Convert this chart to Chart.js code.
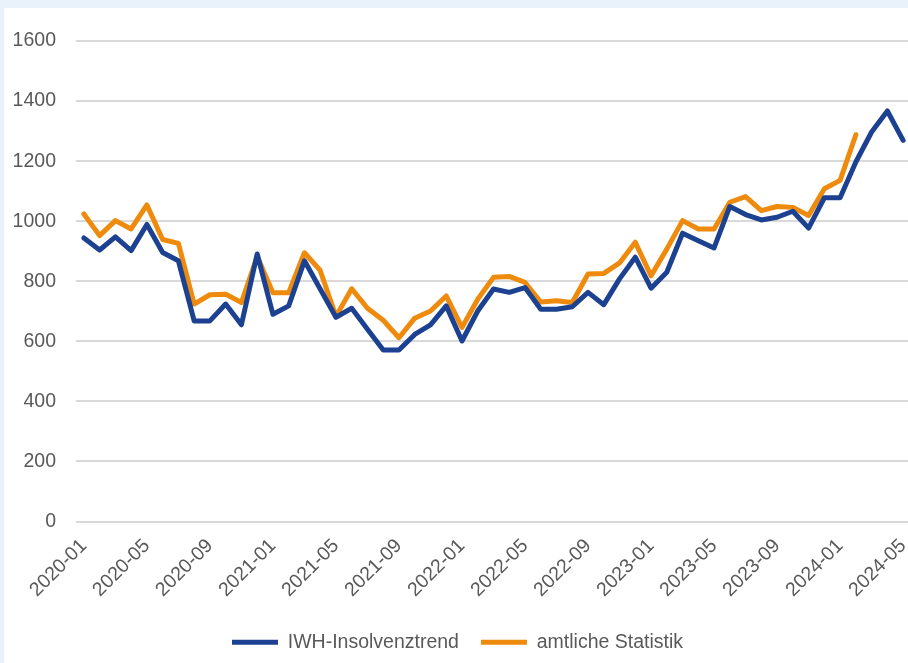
<!DOCTYPE html>
<html lang="de">
<head>
<meta charset="utf-8">
<title>IWH-Insolvenztrend</title>
<script src="https://cdn.jsdelivr.net/npm/chart.js@4/dist/chart.umd.min.js"></script>
<style>
  html, body { margin: 0; padding: 0; overflow: hidden; }
  body { width: 908px; height: 663px; background: #e9f1fa; position: relative; }
  #wrap { position: absolute; left: 4px; top: 8px; width: 907px; height: 655px; background: #fff; }
</style>
</head>
<body>
<div id="wrap"><canvas id="insoChart"></canvas></div>
<script>
/* ------------------------------------------------------------
   Données
------------------------------------------------------------ */
const months = [
  '2020-01','2020-02','2020-03','2020-04','2020-05','2020-06','2020-07','2020-08','2020-09','2020-10','2020-11','2020-12',
  '2021-01','2021-02','2021-03','2021-04','2021-05','2021-06','2021-07','2021-08','2021-09','2021-10','2021-11','2021-12',
  '2022-01','2022-02','2022-03','2022-04','2022-05','2022-06','2022-07','2022-08','2022-09','2022-10','2022-11','2022-12',
  '2023-01','2023-02','2023-03','2023-04','2023-05','2023-06','2023-07','2023-08','2023-09','2023-10','2023-11','2023-12',
  '2024-01','2024-02','2024-03','2024-04','2024-05'
];

const iwhTrend = [
  944, 904, 948, 902, 989, 896, 868, 668, 668, 724, 655, 891,
  690, 718, 868, 774, 680, 710, 640, 571, 571, 623, 655, 718,
  601, 701, 774, 763, 779, 707, 707, 715, 763, 722, 808, 880,
  777, 830, 960, 935, 911, 1049, 1022, 1004, 1013, 1033, 977, 1078,
  1078, 1197, 1297, 1367, 1269
];

const amtlich = [
  1024, 952, 1002, 974, 1054, 939, 926, 724, 755, 757, 729, 882,
  762, 762, 895, 836, 683, 775, 710, 670, 612, 677, 701, 751,
  646, 740, 813, 816, 796, 731, 735, 729, 824, 826, 861, 930,
  818, 907, 1002, 974, 974, 1063, 1082, 1035, 1049, 1046, 1019, 1108,
  1136, 1288, null, null, null
];

const BLUE = '#1d4191';
const ORANGE = '#ee8a0c';
const GREY = '#595959';
const FONT = { family: '"Liberation Sans", Arial, sans-serif', size: 19.5 };

/* ------------------------------------------------------------
   Graphique
------------------------------------------------------------ */
new Chart(document.getElementById('insoChart'), {
  type: 'line',
  data: {
    labels: months,
    datasets: [
      { label: 'IWH-Insolvenztrend', data: iwhTrend, borderColor: BLUE, backgroundColor: BLUE,
        borderWidth: 5, pointRadius: 0, borderCapStyle: 'round', borderJoinStyle: 'round' },
      { label: 'amtliche Statistik', data: amtlich, borderColor: ORANGE, backgroundColor: ORANGE,
        borderWidth: 5, pointRadius: 0, borderCapStyle: 'round', borderJoinStyle: 'round' }
    ]
  },
  options: {
    responsive: true,
    maintainAspectRatio: false,
    animation: false,
    layout: { padding: { top: 33, right: 0, bottom: 1, left: 0 } },
    plugins: {
      tooltip: { enabled: false },
      legend: {
        position: 'bottom',
        labels: {
          color: GREY, font: FONT, usePointStyle: true, pointStyle: 'line',
          pointStyleWidth: 46, boxHeight: 10, padding: 22
        }
      }
    },
    scales: {
      x: {
        offset: true,
        grid: { display: false },
        border: { display: false },
        ticks: {
          color: GREY, font: FONT, autoSkip: false, maxRotation: 45, minRotation: 45, padding: 5,
          callback: (v, i) => (i % 4 === 0 ? months[i] : null)
        },
        afterFit: s => { s.paddingLeft = 0; s.paddingRight = 0; s.height = 89; }
      },
      y: {
        min: 0, max: 1600,
        grid: { color: '#d9d9d9', lineWidth: 2, drawTicks: false },
        border: { display: false },
        ticks: { stepSize: 200, color: GREY, font: FONT, padding: 20, callback: v => String(v) },
        afterFit: s => { s.width = 72; }
      }
    }
  }
});
</script>
</body>
</html>
